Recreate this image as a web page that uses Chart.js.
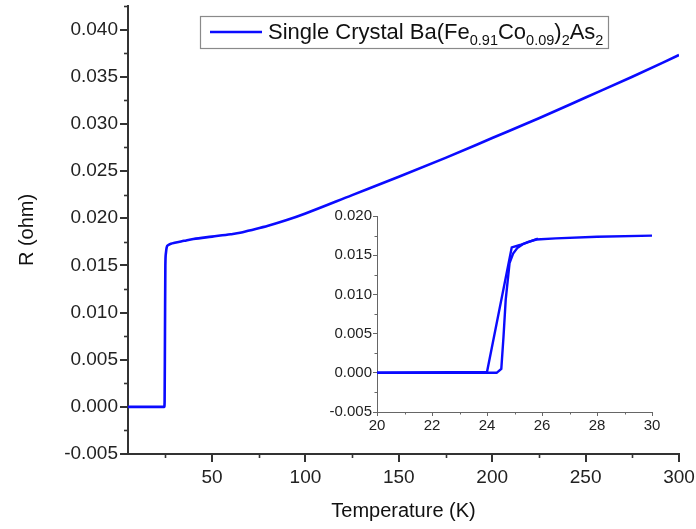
<!DOCTYPE html>
<html><head><meta charset="utf-8">
<script src="https://cdn.jsdelivr.net/npm/chart.js@4.4.1/dist/chart.umd.min.js"></script>
<style>
html,body{margin:0;padding:0;background:#fff;}
#wrap{position:relative;width:696px;height:529px;overflow:hidden;}
#main{position:absolute;left:0;top:0;}
#inset{position:absolute;left:300px;top:200px;}
</style></head><body>
<div id="wrap"><canvas id="main" width="696" height="529"></canvas><canvas id="inset" width="370" height="240"></canvas></div>
<script>
// ---- data ----
const mainT = [5, 15, 24.4, 24.6, 24.8, 25.0, 25.3, 25.7, 26.5, 28, 30, 35, 40, 50, 60, 65, 70, 80, 90, 100, 125, 150, 175, 200, 225, 250, 275, 300];
const mainR = [0, 0, 0, 0.0005, 0.008, 0.015, 0.0163, 0.0169, 0.01715, 0.0173, 0.0174, 0.0176, 0.0178, 0.01805, 0.0183, 0.01845, 0.0187, 0.0192, 0.0198, 0.0205, 0.02245, 0.0244, 0.0264, 0.0285, 0.0306, 0.0328, 0.0350, 0.0373];

const insetTA = [20, 24.0, 24.9, 25.2, 25.5, 25.8, 26.5, 28, 30];
const insetRA = [0, 0.0001, 0.016, 0.0163, 0.0167, 0.0170, 0.01715, 0.01735, 0.0175];
const insetTB = [20, 24.35, 24.52, 24.6, 24.68, 24.82, 24.95, 25.1, 25.3, 25.6, 25.85];
const insetRB = [0, 0, 0.0005, 0.0046, 0.0093, 0.014, 0.0152, 0.0159, 0.0164, 0.0168, 0.0171];

const mainXTicks = [50, 100, 150, 200, 250, 300];
const mainXMinor = [25, 75, 125, 175, 225, 275];
const mainYTicks = [-0.005, 0, 0.005, 0.010, 0.015, 0.020, 0.025, 0.030, 0.035, 0.040];
const mainYMinor = [-0.0025, 0.0025, 0.0075, 0.0125, 0.0175, 0.0225, 0.0275, 0.0325, 0.0375, 0.0425];
const insetXTicks = [20, 22, 24, 26, 28, 30];
const insetXMinor = [21, 23, 25, 27, 29];
const insetYTicks = [-0.005, 0, 0.005, 0.010, 0.015, 0.020];
const insetYMinor = [-0.0025, 0.0025, 0.0075, 0.0125, 0.0175];

const xTitle = 'Temperature (K)';
const yTitle = 'R (ohm)';
const legendParts = [
  {t: 'Single Crystal Ba(Fe', sub: false},
  {t: '0.91', sub: true},
  {t: 'Co', sub: false},
  {t: '0.09', sub: true},
  {t: ')', sub: false},
  {t: '2', sub: true},
  {t: 'As', sub: false},
  {t: '2', sub: true}
];

const FONT = "'Liberation Sans', Arial, sans-serif";
const BLUE = '#0b0bff';
const toPts = (xs, ys) => xs.map((x, i) => ({x: x, y: ys[i]}));

const minorTicks = {
  id: 'minorTicks',
  afterDraw(chart, args, o) {
    const ctx = chart.ctx, xs = chart.scales.x, ys = chart.scales.y;
    ctx.save();
    ctx.strokeStyle = o.color; ctx.lineWidth = o.width;
    o.x.forEach(v => { const p = Math.round(xs.getPixelForValue(v)) + 0.5; ctx.beginPath(); ctx.moveTo(p, xs.top); ctx.lineTo(p, xs.top + o.len); ctx.stroke(); });
    o.y.forEach(v => { const p = Math.round(ys.getPixelForValue(v)) + 0.5; ctx.beginPath(); ctx.moveTo(ys.right, p); ctx.lineTo(ys.right - o.len, p); ctx.stroke(); });
    ctx.restore();
  }
};

const legendBox = {
  id: 'legendBox',
  afterDraw(chart, args, o) {
    const ctx = chart.ctx;
    ctx.save();
    ctx.fillStyle = '#fff';
    ctx.fillRect(o.x0, o.y0, o.x1 - o.x0, o.y1 - o.y0);
    ctx.strokeStyle = '#8a8a8a'; ctx.lineWidth = 1.2;
    ctx.strokeRect(o.x0 + 0.5, o.y0 + 0.5, o.x1 - o.x0, o.y1 - o.y0);
    ctx.strokeStyle = BLUE; ctx.lineWidth = 2.5;
    ctx.beginPath(); ctx.moveTo(o.lx0, o.ly); ctx.lineTo(o.lx1, o.ly); ctx.stroke();
    let x = o.tx;
    ctx.fillStyle = '#111';
    ctx.textBaseline = 'alphabetic'; ctx.textAlign = 'left';
    legendParts.forEach(p => {
      ctx.font = (p.sub ? o.subSize : o.size) + 'px ' + FONT;
      ctx.fillText(p.t, x, p.sub ? o.base + o.subDrop : o.base);
      x += ctx.measureText(p.t).width;
    });
    ctx.restore();
  }
};

function axis(min, max, majors, fmt, o) {
  return {
    type: 'linear', min: min, max: max,
    afterBuildTicks: s => { s.ticks = majors.map(v => ({value: v})); },
    afterFit: o.fit,
    grid: {drawOnChartArea: false, drawTicks: true, tickLength: o.tick, color: o.color, lineWidth: o.lw},
    border: {display: true, color: o.color, width: o.lw},
    ticks: {autoSkip: false, maxRotation: 0, minRotation: 0, color: '#222', padding: o.pad,
            font: {family: FONT, size: o.fs}, callback: v => fmt(v)},
    title: o.title ? {display: true, text: o.title, color: '#111', font: {family: FONT, size: o.tfs}, padding: o.tpad} : {display: false}
  };
}

const f3 = v => (Math.abs(v) < 1e-12 ? 0 : v).toFixed(3);
const f0 = v => String(Math.round(v));
const fitH = h => s => { s.height = h; s.paddingLeft = 0; s.paddingRight = 0; s.paddingTop = 0; s.paddingBottom = 0; };
const fitW = w => s => { s.width = w; s.paddingLeft = 0; s.paddingRight = 0; s.paddingTop = 0; s.paddingBottom = 0; };

new Chart(document.getElementById('main'), {
  type: 'scatter',
  data: {datasets: [{label: 'Single Crystal Ba(Fe0.91Co0.09)2As2', data: toPts(mainT, mainR), showLine: true,
    borderColor: BLUE, borderWidth: 2.6, pointRadius: 0, tension: 0, cubicInterpolationMode: 'monotone', fill: false}]},
  options: {
    responsive: false, animation: false, devicePixelRatio: 1,
    layout: {padding: {left: 0, right: 17, top: 6, bottom: 0}},
    plugins: {legend: {display: false}, tooltip: {enabled: false},
      minorTicks: {x: mainXMinor, y: mainYMinor, len: 4, color: '#333', width: 1.6},
      legendBox: {x0: 200, y0: 16, x1: 608, y1: 48, lx0: 210, lx1: 262, ly: 32, tx: 268, base: 39, size: 22, subSize: 14.5, subDrop: 6}
    },
    scales: {
      x: axis(5, 300, mainXTicks, f0, {fit: fitH(75), tick: 8, color: '#333', lw: 2, pad: 4, fs: 19, title: xTitle, tfs: 20, tpad: {bottom: 6}}),
      y: axis(-0.005, 0.0425, mainYTicks, f3, {fit: fitW(128), tick: 8, color: '#333', lw: 2, pad: 2, fs: 19, title: yTitle, tfs: 20, tpad: {top: 15}})
    }
  },
  plugins: [minorTicks, legendBox]
});

new Chart(document.getElementById('inset'), {
  type: 'scatter',
  data: {datasets: [
    {label: 'A', data: toPts(insetTA, insetRA), showLine: true, borderColor: BLUE, borderWidth: 2.4, pointRadius: 0, tension: 0, fill: false},
    {label: 'B', data: toPts(insetTB, insetRB), showLine: true, borderColor: BLUE, borderWidth: 2.4, pointRadius: 0, tension: 0, fill: false}
  ]},
  options: {
    responsive: false, animation: false, devicePixelRatio: 1,
    layout: {padding: {left: 0, right: 18, top: 16, bottom: 0}},
    plugins: {legend: {display: false}, tooltip: {enabled: false},
      minorTicks: {x: insetXMinor, y: insetYMinor, len: 2.5, color: '#666', width: 1}
    },
    scales: {
      x: axis(20, 30, insetXTicks, f0, {fit: fitH(28), tick: 4, color: '#666', lw: 1, pad: 1, fs: 15}),
      y: axis(-0.005, 0.020, insetYTicks, f3, {fit: fitW(77), tick: 4, color: '#666', lw: 1, pad: 1, fs: 15})
    }
  },
  plugins: [minorTicks]
});
</script>
</body></html>
